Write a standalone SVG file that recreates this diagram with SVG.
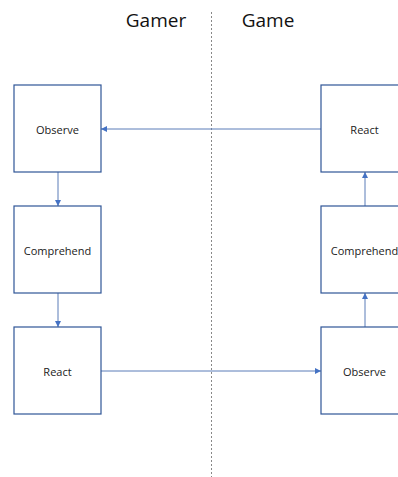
<svg xmlns="http://www.w3.org/2000/svg" width="398" height="477" viewBox="0 0 398 477">
<style>
.box{fill:#fff;stroke:#2F5597;stroke-width:1.2}
.lbl{font-family:"Open Sans","Noto Sans",sans-serif;font-size:11px;fill:#1a1a1a;text-anchor:middle;dominant-baseline:central}
.hdr{font-family:"Open Sans","Noto Sans",sans-serif;font-size:19px;fill:#111;text-anchor:middle}
.con{stroke:#5B7DB8;stroke-width:1;fill:none;marker-end:url(#ah)}
</style>
<defs>
<marker id="ah" viewBox="0 0 10 10" refX="10" refY="5" markerWidth="6" markerHeight="6" markerUnits="userSpaceOnUse" orient="auto">
<path d="M0,0 L10,5 L0,10 z" fill="#4472C4"/>
</marker>
</defs>
<rect width="398" height="477" fill="#fff"/>
<line x1="211.5" y1="12" x2="211.5" y2="477" stroke="#888" stroke-width="1" stroke-dasharray="2,2"/>
<text class="hdr" x="156" y="27">Gamer</text>
<text class="hdr" x="268" y="27">Game</text>
<g id="connectors">
<line class="con" x1="321" y1="129" x2="101" y2="129"/>
<line class="con" x1="58" y1="172" x2="58" y2="206"/>
<line class="con" x1="58" y1="293" x2="58" y2="327"/>
<line class="con" x1="101" y1="371" x2="321" y2="371"/>
<line class="con" x1="365" y1="327" x2="365" y2="293"/>
<line class="con" x1="365" y1="206" x2="365" y2="172"/>
</g>
<g id="gamer-observe"><rect class="box" x="14" y="85" width="87" height="87"/><text class="lbl" x="57.5" y="129">Observe</text></g>
<g id="gamer-comprehend"><rect class="box" x="14" y="206" width="87" height="87"/><text class="lbl" x="57.5" y="250">Comprehend</text></g>
<g id="gamer-react"><rect class="box" x="14" y="327" width="87" height="87"/><text class="lbl" x="57.5" y="371">React</text></g>
<g id="game-react"><rect class="box" x="321" y="85" width="87" height="87"/><text class="lbl" x="364.5" y="129">React</text></g>
<g id="game-comprehend"><rect class="box" x="321" y="206" width="87" height="87"/><text class="lbl" x="364.5" y="250">Comprehend</text></g>
<g id="game-observe"><rect class="box" x="321" y="327" width="87" height="87"/><text class="lbl" x="364.5" y="371">Observe</text></g>
</svg>
